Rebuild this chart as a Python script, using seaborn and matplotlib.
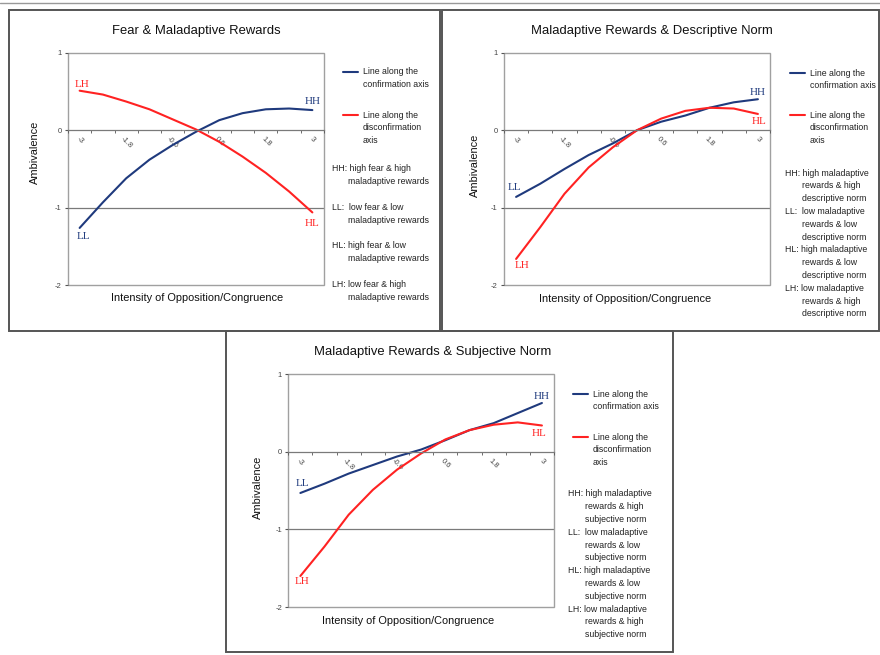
import pandas as pd
import matplotlib
matplotlib.use("Agg")
import matplotlib.pyplot as plt
from matplotlib.lines import Line2D
from matplotlib.patches import Rectangle
import seaborn as sns

# intensity levels on the category axis
intensity = [-3.0, -2.4, -1.8, -1.2, -0.6, 0.0, 0.6, 1.2, 1.8, 2.4, 3.0]
tick_labels = ["-3", "-1.8", "-0.6", "0.6", "1.8", "3"]

# Fear & Maladaptive Rewards
fear_conf = [-1.26, -0.93, -0.62, -0.38, -0.19, -0.02, 0.13, 0.22, 0.27, 0.28, 0.26]
fear_disc = [0.51, 0.46, 0.37, 0.27, 0.14, 0.01, -0.15, -0.34, -0.55, -0.79, -1.06]

# Maladaptive Rewards & Descriptive Norm
desc_conf = [-0.86, -0.69, -0.50, -0.32, -0.17, 0.0, 0.11, 0.19, 0.29, 0.36, 0.40]
desc_disc = [-1.66, -1.25, -0.82, -0.48, -0.22, 0.0, 0.15, 0.25, 0.29, 0.28, 0.21]

# Maladaptive Rewards & Subjective Norm
subj_conf = [-0.53, -0.41, -0.28, -0.17, -0.06, 0.03, 0.15, 0.28, 0.37, 0.50, 0.63]
subj_disc = [-1.60, -1.22, -0.81, -0.49, -0.23, -0.02, 0.16, 0.28, 0.35, 0.38, 0.34]

W, H = 880, 655
BLUE = "#1f3a7d"
RED = "#ff2222"

sns.set_style("white")
plt.rcParams["font.family"] = ["Liberation Sans", "DejaVu Sans"]

fig = plt.figure(figsize=(W / 100, H / 100), dpi=100)


def fx(x):
    return x / W


def fy(y):
    return 1 - y / H


def ftext(x, y, s, **kw):
    fig.text(fx(x), fy(y), s, **kw)


def draw_chart(rect, conf, disc, title, ends, title_xy, ylab_xy, xlab_xy):
    l, t, r, b = rect
    ax = fig.add_axes([fx(l), fy(b), (r - l) / W, (b - t) / H])
    df = pd.DataFrame({
        "x": intensity * 2,
        "y": conf + disc,
        "line": ["conf"] * len(conf) + ["disc"] * len(disc),
    })
    sns.lineplot(data=df, x="x", y="y", hue="line", palette={"conf": BLUE, "disc": RED},
                 legend=False, ax=ax, linewidth=1.5, sort=False)
    ax.set_xlim(-3.3, 3.3)
    ax.set_ylim(-2, 1)
    ax.set_xlabel("")
    ax.set_ylabel("")
    ax.axhline(-1, color="#7a7a7a", lw=0.9, zorder=0)
    for s in ["top", "right", "left"]:
        ax.spines[s].set_visible(False)
    ax.spines["bottom"].set_position(("data", 0))
    ax.spines["bottom"].set_color("#7a7a7a")
    ax.spines["bottom"].set_linewidth(0.9)
    ax.add_patch(Rectangle((0, 0), 1, 1, transform=ax.transAxes, fill=False,
                           ec="#a0a0a0", lw=1.0, clip_on=False, zorder=0))
    ax.set_xticks(intensity[::2])
    ax.set_xticklabels(tick_labels, rotation=-45, fontsize=5.5, color="#444444")
    ax.set_xticks([-3.3 + 0.6 * k for k in range(12)], minor=True)
    ax.tick_params(axis="x", which="major", length=0, pad=4)
    ax.tick_params(axis="x", which="minor", length=2.5, color="#555555", direction="out", bottom=True)
    ax.set_yticks([-2, -1, 0, 1])
    ax.set_yticklabels(["-2", "-1", "0", "1"], fontsize=5.5, color="#444444")
    ax.tick_params(axis="y", length=2.5, color="#555555", direction="out", left=True, pad=2)

    series = {"conf": conf, "disc": disc}
    for lab, (name, at_end, dx, dy, col) in ends.items():
        vals = series[name]
        i = -1 if at_end else 0
        ax.annotate(lab, xy=(intensity[i], vals[i]), xytext=(dx, dy), textcoords="offset points",
                    ha="center", va="center", color=col, fontsize=8,
                    family=["Liberation Serif", "DejaVu Serif"])

    ftext(*title_xy, title, fontsize=9.4, ha="center", va="center", color="#111111")
    ftext(*ylab_xy, "Ambivalence", fontsize=7.9, rotation=90, ha="center", va="center", color="#111111")
    ftext(*xlab_xy, "Intensity of Opposition/Congruence", fontsize=7.9, ha="center", va="center",
          color="#111111")
    return ax


def draw_legend(x_line, y_blue, y_red, x_desc, x_ind, y_desc, entries, step=12.8, gap=0):
    fs = 6.3
    for yy, col, txt in [(y_blue, BLUE, ["Line along the", "confirmation axis"]),
                         (y_red, RED, ["Line along the", "disconfirmation", "axis"])]:
        fig.add_artist(Line2D([fx(x_line), fx(x_line + 15)], [fy(yy), fy(yy)], color=col, lw=1.5))
        for k, s in enumerate(txt):
            ftext(x_line + 20, yy + k * step, s, fontsize=fs, va="center", color="#222222")
    yy = y_desc
    for head, lines in entries:
        ftext(x_desc, yy, head + " " + lines[0], fontsize=fs, va="center", color="#222222")
        for k, s in enumerate(lines[1:], start=1):
            ftext(x_ind, yy + k * step, s, fontsize=fs, va="center", color="#222222")
        yy += len(lines) * step + gap


# top rule and panel frames
fig.add_artist(Line2D([0, 1], [fy(3), fy(3)], color="#999999", lw=1.0))
for (l, t, r, b) in [(9, 10, 440, 331), (442, 10, 879, 331), (226, 331, 673, 652)]:
    fig.add_artist(Rectangle((fx(l), fy(b)), (r - l) / W, (b - t) / H, transform=fig.transFigure,
                             fill=False, ec="#555555", lw=1.4))

# panel 1
draw_chart((68, 52.7, 324, 285.3), fear_conf, fear_disc, "Fear & Maladaptive Rewards",
           {"LH": ("disc", False, 2, 4.6, RED), "HH": ("conf", True, 0, 6.3, BLUE),
            "LL": ("conf", False, 3, -6.2, BLUE), "HL": ("disc", True, 0, -8, RED)},
           (196, 31), (35, 152), (197, 298))
draw_legend(343, 72, 115, 332, 348, 169,
            [("HH:", ["high fear & high", "maladaptive rewards"]),
             ("LL: ", ["low fear & low", "maladaptive rewards"]),
             ("HL:", ["high fear & low", "maladaptive rewards"]),
             ("LH:", ["low fear & high", "maladaptive rewards"])], gap=12.8)

# panel 2
draw_chart((504, 52.7, 770, 285.3), desc_conf, desc_disc, "Maladaptive Rewards & Descriptive Norm",
           {"LL": ("conf", False, -1, 7, BLUE), "LH": ("disc", False, 4.5, -5, RED),
            "HH": ("conf", True, 0, 4.5, BLUE), "HL": ("disc", True, 0.5, -5.3, RED)},
           (652, 31), (475, 165), (625, 299))
draw_legend(790, 73, 115, 785, 802, 173,
            [("HH:", ["high maladaptive", "rewards & high", "descriptive norm"]),
             ("LL: ", ["low maladaptive", "rewards & low", "descriptive norm"]),
             ("HL:", ["high maladaptive", "rewards & low", "descriptive norm"]),
             ("LH:", ["low maladaptive", "rewards & high", "descriptive norm"])])

# panel 3
draw_chart((288.3, 374.3, 554, 607), subj_conf, subj_disc, "Maladaptive Rewards & Subjective Norm",
           {"HH": ("conf", True, 0, 5, BLUE), "HL": ("disc", True, -2, -6, RED),
            "LL": ("conf", False, 1.5, 6.6, BLUE), "LH": ("disc", False, 1.5, -4, RED)},
           (433, 352), (258, 487), (408, 621))
draw_legend(573, 394, 437, 568, 585, 494,
            [("HH:", ["high maladaptive", "rewards & high", "subjective norm"]),
             ("LL: ", ["low maladaptive", "rewards & low", "subjective norm"]),
             ("HL:", ["high maladaptive", "rewards & low", "subjective norm"]),
             ("LH:", ["low maladaptive", "rewards & high", "subjective norm"])])

fig.savefig("out.png", dpi=100)
